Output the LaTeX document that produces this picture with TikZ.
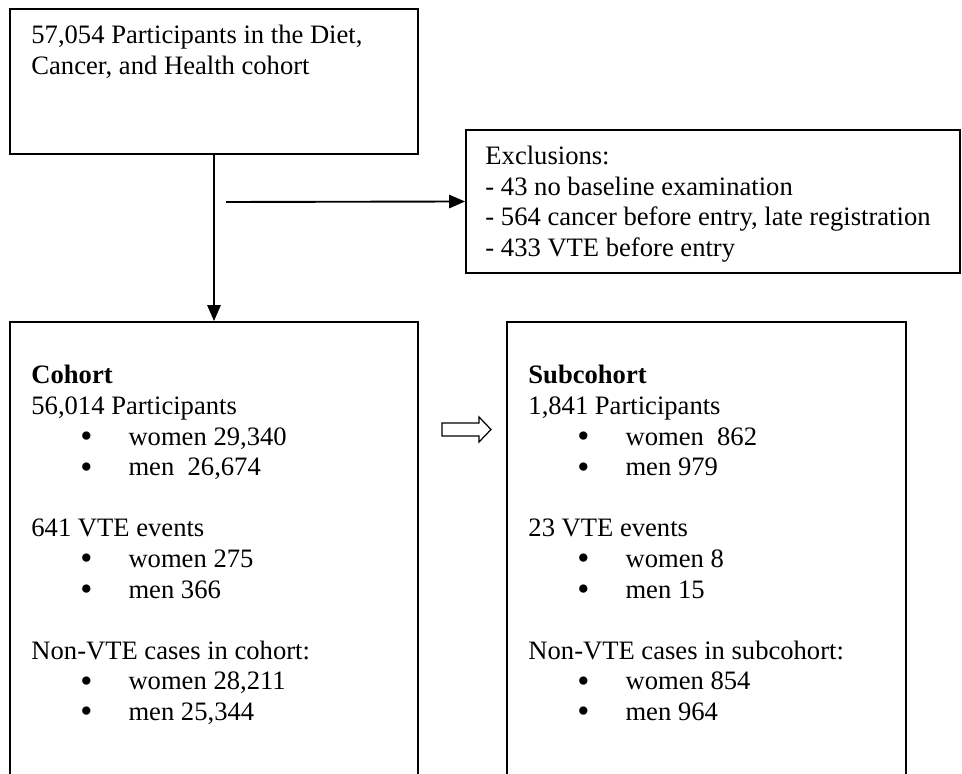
\documentclass[tikz,border=0pt]{standalone}
\usepackage{fontspec}
\setmainfont{Liberation Serif}
\usetikzlibrary{arrows.meta,fit}
% bulleted line inside a box: indent, bullet, then the item text
\newcommand\bul[1]{\hspace*{22.1pt}\makebox[21.7pt][l]{\raisebox{-0.09em}{\scalebox{1.3}{•}}}#1}
\begin{document}
\begin{tikzpicture}[x=0.4511pt,y=-0.4511pt,
  box/.style={draw,line width=0.85pt,inner sep=0pt},
  % text nodes are placed by the baseline of their last line
  txt/.style={anchor=base west,inner sep=0pt,align=left,font=\fontsize{12}{13.8}\selectfont},
  flow/.style={line width=0.85pt,-{Triangle[length=7.2pt,width=6pt]}}]
\clip (0,0) rectangle (962,774);

% source cohort
\coordinate (topNW) at (10,9); \coordinate (topSE) at (418,154);
\node[box,fit=(topNW)(topSE)] (top) {};
\node[txt] (toptext) at (31,74.5) {57,054 Participants in the Diet,\\Cancer, and Health cohort};

% exclusions
\coordinate (exNW) at (466,130); \coordinate (exSE) at (960,273);
\node[box,fit=(exNW)(exSE)] (excl) {};
\node[txt] (excltext) at (485,256.5) {Exclusions:\\- 43 no baseline examination\\- 564 cancer before entry, late registration\\- 433 VTE before entry};

% cohort and subcohort boxes run off the bottom edge
\coordinate (coNW) at (10,322); \coordinate (coSE) at (418,800);
\node[box,fit=(coNW)(coSE)] (cohort) {};
\coordinate (suNW) at (507,322); \coordinate (suSE) at (906,800);
\node[box,fit=(suNW)(suSE)] (sub) {};

\node[txt] (cohorttext) at (31,720.5) {\textbf{Cohort}\\56,014 Participants\\\bul{women 29,340}\\\bul{men\ \ 26,674}\\[13.8pt]641 VTE events\\\bul{women 275}\\\bul{men 366}\\[13.8pt]Non-VTE cases in cohort:\\\bul{women 28,211}\\\bul{men 25,344}};

\node[txt] (subtext) at (528,720.5) {\textbf{Subcohort}\\1,841 Participants\\\bul{women\ \ 862}\\\bul{men 979}\\[13.8pt]23 VTE events\\\bul{women 8}\\\bul{men 15}\\[13.8pt]Non-VTE cases in subcohort:\\\bul{women 854}\\\bul{men 964}};

% connectors
\draw[flow] (top.south) -- (cohort.north);
\coordinate (split) at (226,202);
\draw[flow] (split) -- (excl.west);

% hollow block arrow between cohort and subcohort
\draw[line width=0.55pt] (442,423) -- (479,423) -- (479,417) -- (491,429.5)
  -- (479,442) -- (479,436) -- (442,436) -- cycle;
\end{tikzpicture}
\end{document}
